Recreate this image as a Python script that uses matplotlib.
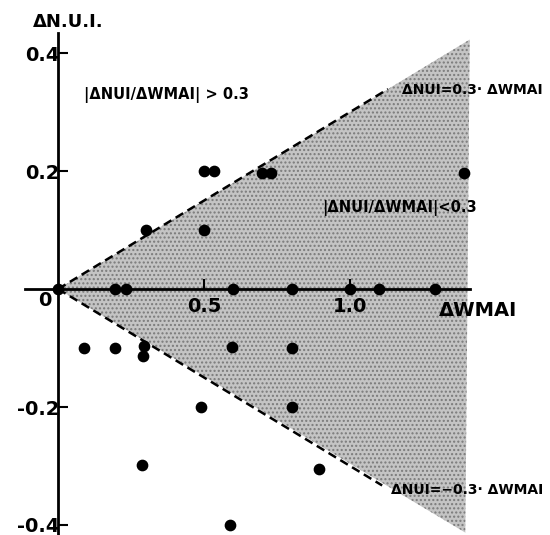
import numpy as np
import matplotlib.pyplot as plt
from matplotlib.patches import Polygon

# data
d_wmai = [0.0, 0.195, 0.233, 0.60, 0.80, 1.00, 1.10, 1.29,
          0.30, 0.50, 0.50, 0.534, 0.70, 0.73, 1.39,
          0.09, 0.195, 0.295, 0.29, 0.597, 0.49, 0.288, 0.59, 0.80, 0.80, 0.895]
d_nui = [0.0, 0.0, 0.0, 0.0, 0.0, 0.0, 0.0, 0.0,
         0.10, 0.10, 0.20, 0.20, 0.197, 0.197, 0.197,
         -0.10, -0.10, -0.097, -0.114, -0.098, -0.20, -0.298, -0.40, -0.10, -0.20, -0.305]
slope = 0.3
shade_x = 1.41
dash_x = [1.13, 1.11]
yticks = [-0.4, -0.2, 0.2, 0.4]
xticks = [0.5, 1.0]

plt.rcParams['font.weight'] = 'bold'

fig = plt.figure(figsize=(5.5, 5.35), dpi=100)
ax = fig.add_axes([0, 0, 1, 1])
ax.set_xlim(-0.199, 1.685)
ax.set_ylim(-0.417, 0.490)

# shaded region between the +-0.3 lines
tri = Polygon([(0, 0), (shade_x, slope * shade_x), (shade_x - 0.015, -slope * shade_x + 0.01)],
              closed=True, facecolor='#c4c4c4', edgecolor='#7a7a7a', hatch='....', linewidth=0, zorder=0)
ax.add_patch(tri)

# dashed boundary lines
ax.plot([0, dash_x[0]], [0, slope * dash_x[0]], color='black', lw=1.8, ls=(0, (3.5, 2)), zorder=2)
ax.plot([0, dash_x[1]], [0, -slope * dash_x[1]], color='black', lw=1.8, ls=(0, (3.5, 2)), zorder=2)

ax.scatter(d_wmai, d_nui, s=55, color='black', zorder=4)

# axes through origin
for s in ['top', 'right']:
    ax.spines[s].set_visible(False)
ax.spines['left'].set_position(('data', 0))
ax.spines['bottom'].set_position(('data', 0))
ax.spines['left'].set_bounds(-0.42, 0.434)
ax.spines['bottom'].set_bounds(-0.113, 1.41)
ax.spines['left'].set_linewidth(2)
ax.spines['bottom'].set_linewidth(2)

ax.set_yticks(yticks)
ax.set_yticklabels(['-0.4', '-0.2', '0.2', '0.4'])
ax.set_xticks(xticks)
ax.set_xticklabels(['0.5', '1.0'])
ax.tick_params(axis='y', direction='in', length=7, width=1.5, labelsize=14, pad=-1)
ax.tick_params(axis='x', direction='in', length=7, width=1.5, labelsize=14, pad=6)

ax.text(-0.045, -0.02, '0', fontsize=14, ha='center', va='center')
ax.text(0.034, 0.453, 'ΔN.U.I.', fontsize=13, ha='center', va='center')
ax.text(1.44, -0.036, 'ΔWMAI', fontsize=14, ha='center', va='center')

ax.text(0.37, 0.329, '|ΔNUI/ΔWMAI| > 0.3', fontsize=10.5, ha='center', va='center')
ax.text(1.17, 0.137, '|ΔNUI/ΔWMAI|<0.3', fontsize=10.5, ha='center', va='center')
ax.text(1.42, 0.337, 'ΔNUI=0.3· ΔWMAI', fontsize=10, ha='center', va='center')
ax.text(1.40, -0.34, 'ΔNUI=−0.3· ΔWMAI', fontsize=10, ha='center', va='center')

fig.savefig('out.png', dpi=100)
